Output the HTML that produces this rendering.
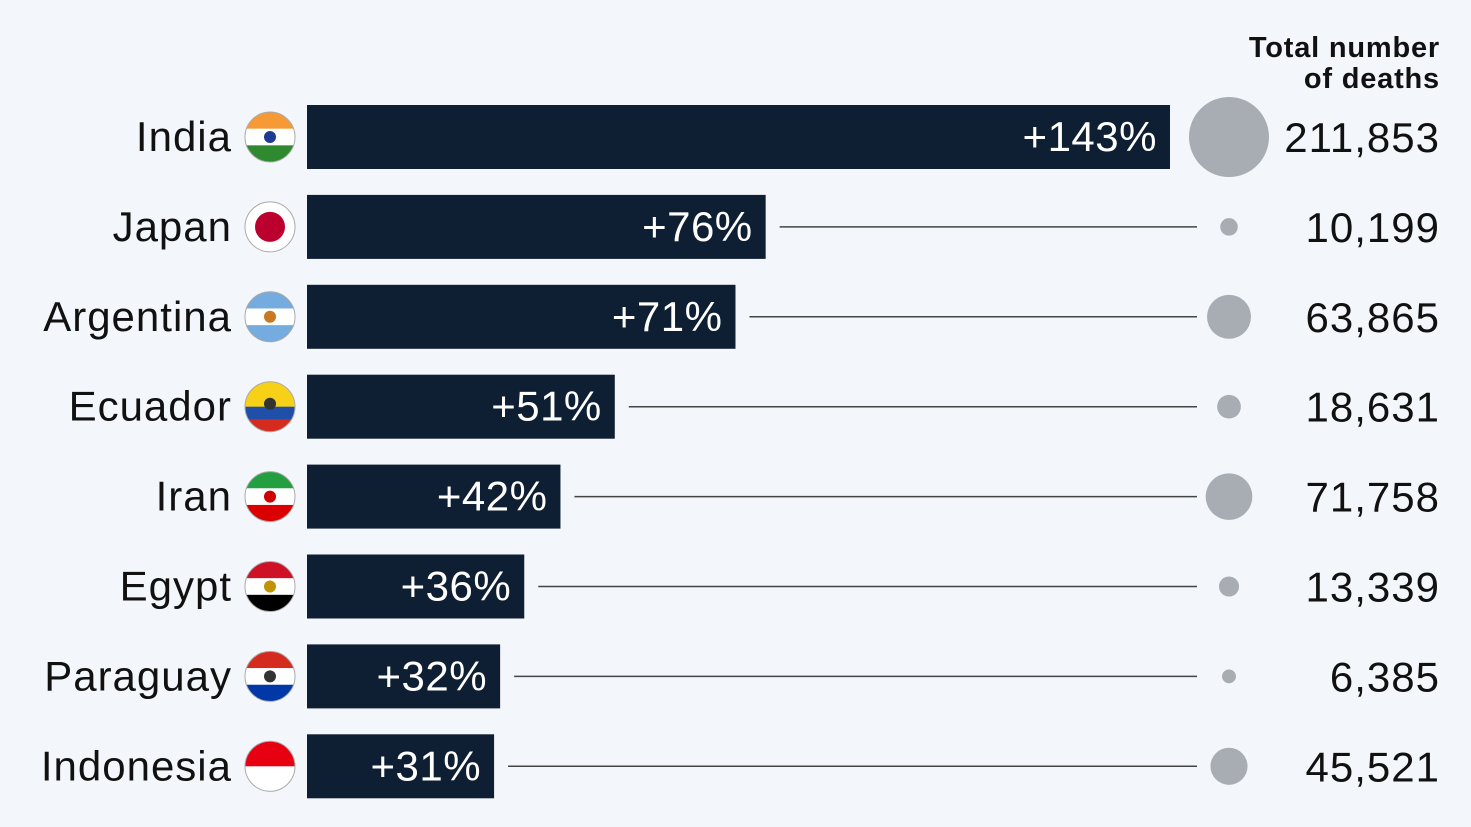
<!DOCTYPE html>
<html><head><meta charset="utf-8"><style>
html,body{margin:0;padding:0;background:#f3f6fa;}
svg{display:block;font-family:"Liberation Sans",sans-serif;}
</style></head><body>
<svg id="chart" width="1471" height="827" viewBox="0 0 1471 827">
<rect width="1471" height="827" fill="#f3f6fa"/>
<text x="1440" y="57" text-anchor="end" font-size="29" font-weight="bold" letter-spacing="0.8" fill="#111">Total number</text>
<text x="1440" y="88" text-anchor="end" font-size="29" font-weight="bold" letter-spacing="0.8" fill="#111">of deaths</text>
<defs>
<clipPath id="fc"><circle cx="0" cy="0" r="25"/></clipPath>
</defs>
<g id="rows"></g>
</svg>
<script>
const countries=["India","Japan","Argentina","Ecuador","Iran","Egypt","Paraguay","Indonesia"];
const excessPct=[143,76,71,51,42,36,32,31];
const totalDeaths=[211853,10199,63865,18631,71758,13339,6385,45521];
const flagStripes=[
 [["#f59a34",1],["#ffffff",1],["#2f8a2f",1]],
 [["#ffffff",1]],
 [["#74acdf",1],["#ffffff",1],["#74acdf",1]],
 [["#f7d117",2],["#1f4fa8",1],["#d52b1e",1]],
 [["#239f40",1],["#ffffff",1],["#da0000",1]],
 [["#ce1126",1],["#ffffff",1],["#000000",1]],
 [["#d52b1e",1],["#ffffff",1],["#0038a8",1]],
 [["#e70011",1],["#ffffff",1]]
];
const flagCenter=["#1f3a93","#bc002d","#c8781e","#333","#c00","#c09300","#333",null];
const NS="http://www.w3.org/2000/svg";
const g=document.getElementById("rows");
const x0=307,xScale=863/143,y0=137,rowH=89.9,barH=64,dotX=1229,maxR=40;
const maxD=Math.max(...totalDeaths);
function xOf(v){return x0+v*xScale;}
function yOf(i){return y0+i*rowH;}
function rOf(d){return maxR*Math.sqrt(d/maxD);}
function mk(t,a){const e=document.createElementNS(NS,t);for(const k in a)e.setAttribute(k,a[k]);return e;}
countries.forEach((c,i)=>{
 const cy=yOf(i),xe=xOf(excessPct[i]);
 const lbl=mk("text",{x:232,y:cy+14,"text-anchor":"end","font-size":42,"letter-spacing":1,fill:"#111"});
 lbl.textContent=c;
 
 
 g.appendChild(lbl);
 const fg=mk("g",{transform:`translate(270,${cy})`});
 
 
 const st=flagStripes[i];const tot=st.reduce((a,s)=>a+s[1],0);let yy=-25;
 const cg=mk("g",{"clip-path":"url(#fc)"});
 st.forEach(s=>{const h=50*s[1]/tot;cg.appendChild(mk("rect",{x:-25,y:yy,width:50,height:h+0.5,fill:s[0]}));yy+=h;});
 fg.appendChild(cg);
 if(flagCenter[i])fg.appendChild(mk("circle",{cx:0,cy:(i==3?-3:0),r:(i==1?15:6),fill:flagCenter[i]}));
 fg.appendChild(mk("circle",{cx:0,cy:0,r:25,fill:"none",stroke:"#aaa","stroke-width":1}));
 g.appendChild(fg);
 const bar=mk("rect",{x:x0,y:cy-barH/2,width:xe-x0,height:barH,fill:"#0f1f33"});
 
 
 g.appendChild(bar);
 const pl=mk("text",{x:xe-13,y:cy+14,"text-anchor":"end","font-size":42,"letter-spacing":0.5,fill:"#fff"});
 pl.textContent="+"+excessPct[i]+"%";
 
 
 g.appendChild(pl);
 const r=rOf(totalDeaths[i]);
 if(xe+14<dotX-r-10){
  const ln=mk("line",{x1:xe+14,x2:1197,y1:cy,y2:cy,stroke:"#444","stroke-width":1.5});
  
  
  g.appendChild(ln);
 }
 const dot=mk("circle",{cx:dotX,cy:cy,r:r,fill:"#a7adb3"});
 
 
 g.appendChild(dot);
 const dl=mk("text",{x:1440,y:cy+15,"text-anchor":"end","font-size":42,"letter-spacing":1,fill:"#111"});
 dl.textContent=totalDeaths[i].toLocaleString("en-US");
 
 
 g.appendChild(dl);
});
</script>
</body></html>
